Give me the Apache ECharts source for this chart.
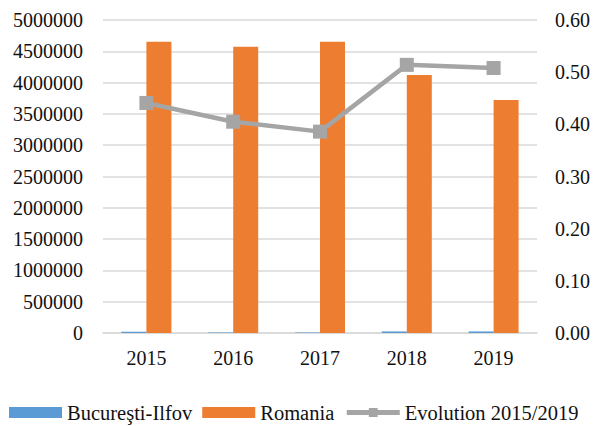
<!DOCTYPE html>
<html>
<head>
<meta charset="utf-8">
<script src="https://cdn.jsdelivr.net/npm/echarts@6/dist/echarts.min.js"></script>
<style>
  html, body { margin: 0; padding: 0; background: #fff; }
  #chart { width: 596px; height: 426px; }
</style>
</head>
<body>
<div id="chart"></div>
<script>
var years = ['2015', '2016', '2017', '2018', '2019'];
var bucurestiIlfov = [20000, 8000, 8000, 25000, 25000];
var romania = [4653000, 4574000, 4653000, 4121000, 3722000];
var evolution = [0.441, 0.405, 0.386, 0.514, 0.508];
var leftTicks = function (v) { return String(v); };
var rightTicks = function (v) { return v.toFixed(2); };

var font = "'Liberation Serif', 'Times New Roman', serif";
var ink = '#111';
var rule = '#d9d9d9';

var chart = echarts.init(document.getElementById('chart'), null, { renderer: 'svg' });
chart.setOption({
  animation: false,
  textStyle: { fontFamily: font },
  grid: { left: 103, right: 59, top: 20, bottom: 93, containLabel: false },
  legend: {
    bottom: 3,
    left: 9,
    width: 590,
    padding: 0,
    itemWidth: 53,
    itemHeight: 11,
    itemGap: 10,
    textStyle: { fontFamily: font, fontSize: 20.5, color: ink },
    data: [
      { name: 'Bucureşti-Ilfov', icon: 'rect' },
      { name: 'Romania', icon: 'rect' },
      { name: 'Evolution 2015/2019', lineStyle: { width: 5, color: '#a5a5a5' } }
    ]
  },
  xAxis: {
    type: 'category',
    data: years,
    axisLine: { lineStyle: { color: rule, width: 1.5 } },
    axisTick: { show: false },
    axisLabel: { color: ink, fontSize: 20, fontFamily: font, margin: 15 }
  },
  yAxis: [
    {
      type: 'value',
      min: 0,
      max: 5000000,
      interval: 500000,
      axisLine: { show: false },
      axisTick: { show: false },
      axisLabel: { color: ink, fontSize: 20, fontFamily: font, margin: 20, formatter: leftTicks },
      splitLine: { lineStyle: { color: rule, width: 1.5 } }
    },
    {
      type: 'value',
      min: 0,
      max: 0.6,
      interval: 0.1,
      axisLine: { show: false },
      axisTick: { show: false },
      splitLine: { show: false },
      axisLabel: { color: ink, fontSize: 20, fontFamily: font, margin: 18, formatter: rightTicks }
    }
  ],
  series: [
    {
      name: 'Bucureşti-Ilfov',
      type: 'bar',
      data: bucurestiIlfov,
      barWidth: 25,
      barGap: '0%',
      itemStyle: { color: '#5b9bd5' }
    },
    {
      name: 'Romania',
      type: 'bar',
      data: romania,
      barWidth: 25,
      barGap: '0%',
      itemStyle: { color: '#ed7d31' }
    },
    {
      name: 'Evolution 2015/2019',
      type: 'line',
      yAxisIndex: 1,
      data: evolution,
      symbol: 'rect',
      symbolSize: 14,
      lineStyle: { color: '#a5a5a5', width: 4.5 },
      itemStyle: { color: '#a5a5a5' },
      z: 5
    }
  ]
});
</script>
</body>
</html>
